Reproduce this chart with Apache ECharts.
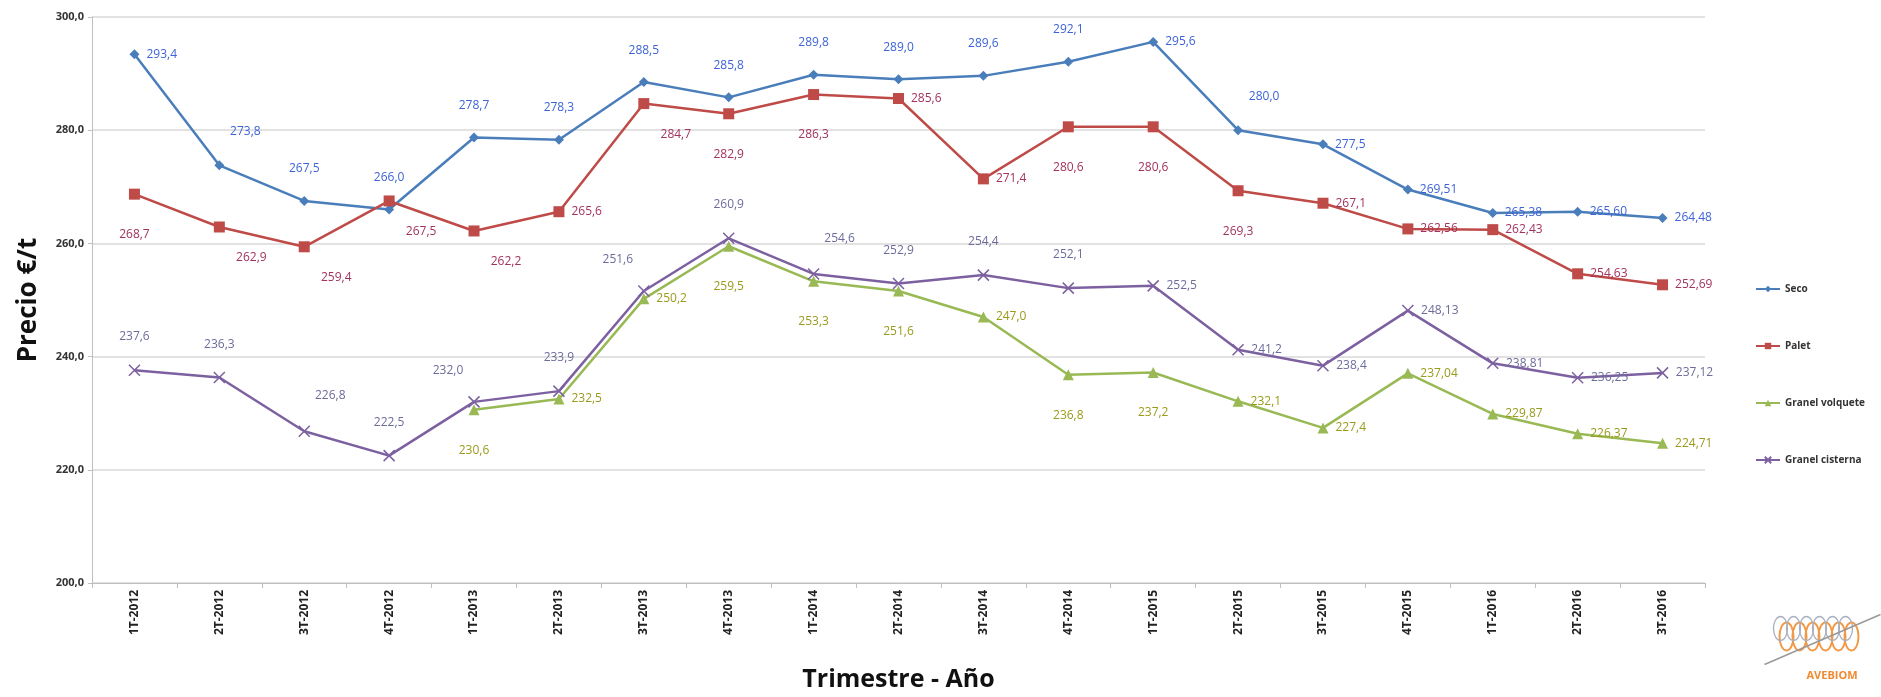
<!DOCTYPE html>
<html>
<head>
<meta charset="utf-8">
<script src="https://cdn.jsdelivr.net/npm/echarts@6/dist/echarts.min.js"></script>
<style>html,body{margin:0;padding:0;background:#fff}#c{width:1881px;height:697px}</style>
</head>
<body>
<div id="c"></div>
<script>
const categories = ["1T-2012","2T-2012","3T-2012","4T-2012","1T-2013","2T-2013","3T-2013","4T-2013","1T-2014","2T-2014","3T-2014","4T-2014","1T-2015","2T-2015","3T-2015","4T-2015","1T-2016","2T-2016","3T-2016"];
const seco = [293.4,273.8,267.5,266.0,278.7,278.3,288.5,285.8,289.8,289.0,289.6,292.1,295.6,280.0,277.5,269.51,265.38,265.60,264.48];
const palet = [268.7,262.9,259.4,267.5,262.2,265.6,284.7,282.9,286.3,285.6,271.4,280.6,280.6,269.3,267.1,262.56,262.43,254.63,252.69];
const granelVolquete = [null,null,null,null,230.6,232.5,250.2,259.5,253.3,251.6,247.0,236.8,237.2,232.1,227.4,237.04,229.87,226.37,224.71];
const granelCisterna = [237.6,236.3,226.8,222.5,232.0,233.9,251.6,260.9,254.6,252.9,254.4,252.1,252.5,241.2,238.4,248.13,238.81,236.25,237.12];
const yTicks = [200,220,240,260,280,300];

// label placement codes (style only)
const secoPos = ['r','tr','t','t','t','t','t','t','t','t','t','t','r','tr','r','r','r','r','r'];
const paletPos = ['b','br','br','br','br','r','br','b','b','r','r','b','b','b','r','r','r','r','r'];
const volqPos = ['r','r','r','r','b','r','r','b','b','b','r','b','b','r','r','r','r','r','r'];
const cistPos = ['t','t','tr','t','tl','t','tl','t','tr','t','t','t','r','r','r','r','r','r','r'];

const offsets = {
  r:{position:'right',offset:[2,0]},
  t:{position:'top',offset:[0,-16]},
  tr:{position:'top',offset:[26,-18]},
  tl:{position:'top',offset:[-26,-14]},
  b:{position:'bottom',offset:[0,24]},
  br:{position:'bottom',offset:[32,14]},
  bl:{position:'bottom',offset:[-24,14]}
};

function fmt(v, i){ return (i >= 15 ? v.toFixed(2) : v.toFixed(1)).replace('.', ','); }

function build(values, pos, labelColor){
  return values.map((v,i)=>{
    if (v === null) return null;
    const o = offsets[pos[i]];
    return {value:v, label:{show:true, position:o.position, offset:o.offset, color:labelColor,
      fontSize:12, fontFamily:'Open Sans', formatter: p => fmt(p.value, p.dataIndex)}};
  });
}

const chart = echarts.init(document.getElementById('c'), null, {renderer:'canvas'});
const series = [
  {name:'Seco', color:'#4a7ebb', symbol:'diamond', symbolSize:10, data:build(seco, secoPos, '#3d63d6')},
  {name:'Palet', color:'#be4b48', symbol:'rect', symbolSize:11, data:build(palet, paletPos, '#a3325e')},
  {name:'Granel volquete', color:'#98b954', symbol:'triangle', symbolSize:11, data:build(granelVolquete, volqPos, '#9a9a1c')},
  {name:'Granel cisterna', color:'#7d60a0', symbol:'path://M0,0L10,10M10,0L0,10', symbolSize:11, data:build(granelCisterna, cistPos, '#6c6c9c'),
    itemStyle:{color:'#7d60a0', borderColor:'#7d60a0', borderWidth:1.5}}
].map(s=>Object.assign({type:'line', lineStyle:{width:2.5, color:s.color}, itemStyle:{color:s.color},
   emphasis:{disabled:true}, animation:false, connectNulls:false}, s));

const loops = [];
for (let k = 0; k < 6; k++) {
  loops.push({type:'ellipse', shape:{cx:22 + k*13, cy:30, rx:7, ry:14}, style:{fill:'none', stroke:'#f09a48', lineWidth:2}});
  loops.push({type:'ellipse', shape:{cx:16 + k*13, cy:22, rx:7, ry:12}, style:{fill:'none', stroke:'#a8b0c0', lineWidth:1.3}});
}

chart.setOption({
  backgroundColor:'#fff',
  animation:false,
  grid:{left:92, right:176, top:17, bottom:99},
  legend:{
    orient:'vertical', left:1750, top:279, itemGap:47, itemWidth:24, itemHeight:8,
    textStyle:{fontSize:10, fontWeight:'bold', color:'#333', fontFamily:'Open Sans'},
    data:['Seco','Palet','Granel volquete','Granel cisterna']
  },
  xAxis:{
    type:'category', data:categories, boundaryGap:true,
    name:'Trimestre - Año', nameLocation:'middle', nameGap:84,
    nameTextStyle:{fontSize:25, fontWeight:'bold', color:'#111', fontFamily:'Open Sans'},
    axisLine:{lineStyle:{color:'#bfbfbf'}},
    axisTick:{show:true, alignWithLabel:false, length:5, lineStyle:{color:'#bfbfbf'}},
    axisLabel:{rotate:90, fontSize:12, fontWeight:'bold', color:'#222', margin:7, fontFamily:'Open Sans'}
  },
  yAxis:{
    type:'value', min:yTicks[0], max:yTicks[yTicks.length-1], interval:20,
    name:'Precio €/t', nameLocation:'middle', nameGap:50, nameRotate:90,
    nameTextStyle:{fontSize:26, fontWeight:'bold', color:'#111', fontFamily:'Open Sans'},
    axisLine:{show:true, lineStyle:{color:'#bfbfbf'}},
    axisTick:{show:true, length:4, lineStyle:{color:'#bfbfbf'}},
    splitLine:{lineStyle:{color:'#d9d9d9', width:1.5}},
    axisLabel:{fontSize:11, fontWeight:'bold', color:'#333', fontFamily:'Open Sans',
      formatter: v => v.toFixed(1).replace('.', ',')}
  },
  graphic:[
    {type:'group', left:1762, top:612, children: loops.concat([
      {type:'line', shape:{x1:0, y1:58, x2:116, y2:8}, style:{stroke:'#999', lineWidth:1.5}},
      {type:'text', style:{x:42, y:64, text:'AVEBIOM', fill:'#f08a30', fontSize:11, fontWeight:'bold', fontFamily:'Open Sans'}}
    ])}
  ],
  series: series
});
</script>
</body>
</html>
